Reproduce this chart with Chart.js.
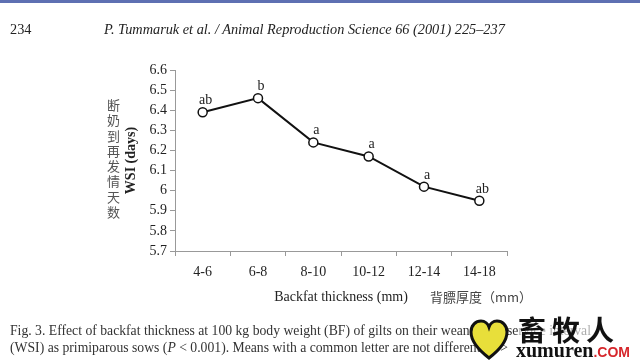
<!DOCTYPE html>
<html>
<head>
<meta charset="utf-8">
<script src="https://cdn.jsdelivr.net/npm/chart.js@4"></script>
<style>
  html, body { margin: 0; padding: 0; background: #fff; }
  #page { position: relative; width: 640px; height: 363px; overflow: hidden; font-family: "Liberation Serif", serif; color: #222; }
  #page canvas { position: absolute; left: 0; top: 0; }
  .abs { position: absolute; white-space: nowrap; }
  .topbar { left: 0; top: 0; width: 640px; height: 3px; background: #5e70b2; }
  .hdr { font-size: 14.3px; line-height: 16px; top: 21px; }
  .cap { font-size: 13.7px; line-height: 17px; left: 10px; top: 322px; color: #333; }
  .vcn { left: 107px; top: 97px; width: 14px; font: 13px/15.3px "Noto Sans CJK SC", sans-serif; color: #555; white-space: normal; word-break: break-all; }
  .bcn { left: 430px; top: 288px; font: 13px/18px "Noto Sans CJK SC", sans-serif; color: #444; }
</style>
</head>
<body>
<div id="page">
  <canvas id="wsiChart" width="640" height="363"></canvas>
  <div class="abs topbar"></div>
  <div class="abs hdr" style="left:10px">234</div>
  <div class="abs hdr" style="left:104px;font-style:italic">P. Tummaruk et al. / Animal Reproduction Science 66 (2001) 225–237</div>
  <div class="abs vcn">断奶到再发情天数</div>
  <div class="abs bcn">背膘厚度（mm）</div>
  <div class="abs cap">Fig. 3. Effect of backfat thickness at 100 kg body weight (BF) of gilts on their weaning-to-service interval<br>(WSI) as primiparous sows (<i>P</i> &lt; 0.001). Means with a common letter are not different (<i>P</i> &gt; 0.05).</div>
  <!-- watermark -->
  <svg class="abs" style="left:468px;top:318px" width="42" height="44" viewBox="0 0 42 44">
    <path d="M21 40 C8 30 3 22 3 14 C3 7 8 3 13 3 C17 3 20 6 21 9 C22 6 25 3 29 3 C34 3 39 7 39 14 C39 22 34 30 21 40 Z" fill="#e8df3a" stroke="#111" stroke-width="3"/>
  </svg>
  <div class="abs" style="left:508px;top:340px;width:132px;height:23px;background:#fff"></div>
  <div class="abs" style="left:518px;top:313px;font:bold 28px/32px 'Noto Sans CJK SC',sans-serif;letter-spacing:6px;color:#111;background:rgba(255,255,255,0.6)">畜牧人</div>
  <div class="abs" style="left:516px;top:340px;font:bold 20px/20px 'Liberation Serif',serif;color:#111">xumuren<span style="color:#d6262b;font:bold 14px 'Liberation Sans',sans-serif">.COM</span></div>
</div>
<script>
  // values
  const categories = ["4-6", "6-8", "8-10", "10-12", "12-14", "14-18"];
  const wsiDays = [6.39, 6.46, 6.24, 6.17, 6.02, 5.95];
  const sigLetters = ["ab", "b", "a", "a", "a", "ab"];
  const yMin = 5.7, yMax = 6.6, yStep = 0.1;

  const serif = "'Liberation Serif', serif";

  // letters above each point
  const letterPlugin = {
    id: "letters",
    afterDatasetsDraw(chart) {
      const ctx = chart.ctx;
      const meta = chart.getDatasetMeta(0);
      ctx.save();
      ctx.font = "14px " + serif;
      ctx.fillStyle = "#222";
      ctx.textAlign = "center";
      ctx.textBaseline = "alphabetic";
      meta.data.forEach(function (pt, i) {
        ctx.fillText(sigLetters[i], pt.x + 3, pt.y - 8);
      });
      ctx.restore();
    }
  };

  new Chart(document.getElementById("wsiChart"), {
    type: "line",
    data: {
      labels: categories,
      datasets: [{
        label: "WSI",
        data: wsiDays,
        borderColor: "#111",
        borderWidth: 2,
        pointRadius: 4.5,
        pointBackgroundColor: "#fff",
        pointBorderColor: "#111",
        pointBorderWidth: 1.5,
        tension: 0,
        fill: false
      }]
    },
    options: {
      responsive: false,
      animation: false,
      layout: { padding: { left: 118, top: 70, right: 133, bottom: 50 } },
      plugins: { legend: { display: false }, tooltip: { enabled: false } },
      scales: {
        x: {
          offset: true,
          grid: { offset: true, drawOnChartArea: false, tickLength: 5, color: "#999" },
          border: { color: "#999" },
          ticks: { color: "#222", font: { family: serif, size: 14 }, padding: 8 },
          title: { display: true, text: "Backfat thickness (mm)", color: "#222", font: { family: serif, size: 14 }, padding: { top: 0, bottom: 7 } },
          afterFit(scale) { scale.height = 62; }
        },
        y: {
          min: yMin,
          max: yMax,
          grid: { drawOnChartArea: false, tickLength: 5, color: "#999" },
          border: { color: "#999" },
          ticks: {
            stepSize: yStep,
            color: "#222",
            font: { family: serif, size: 14 },
            padding: 3,
            callback: function (v) { return String(Math.round(v * 10) / 10); }
          },
          title: { display: true, text: "WSI (days)", color: "#222", font: { family: serif, size: 14, weight: "bold" }, padding: { top: 5, bottom: 0 } },
          afterFit(scale) { scale.width = 57; }
        }
      }
    },
    plugins: [letterPlugin]
  });
</script>
</body>
</html>
